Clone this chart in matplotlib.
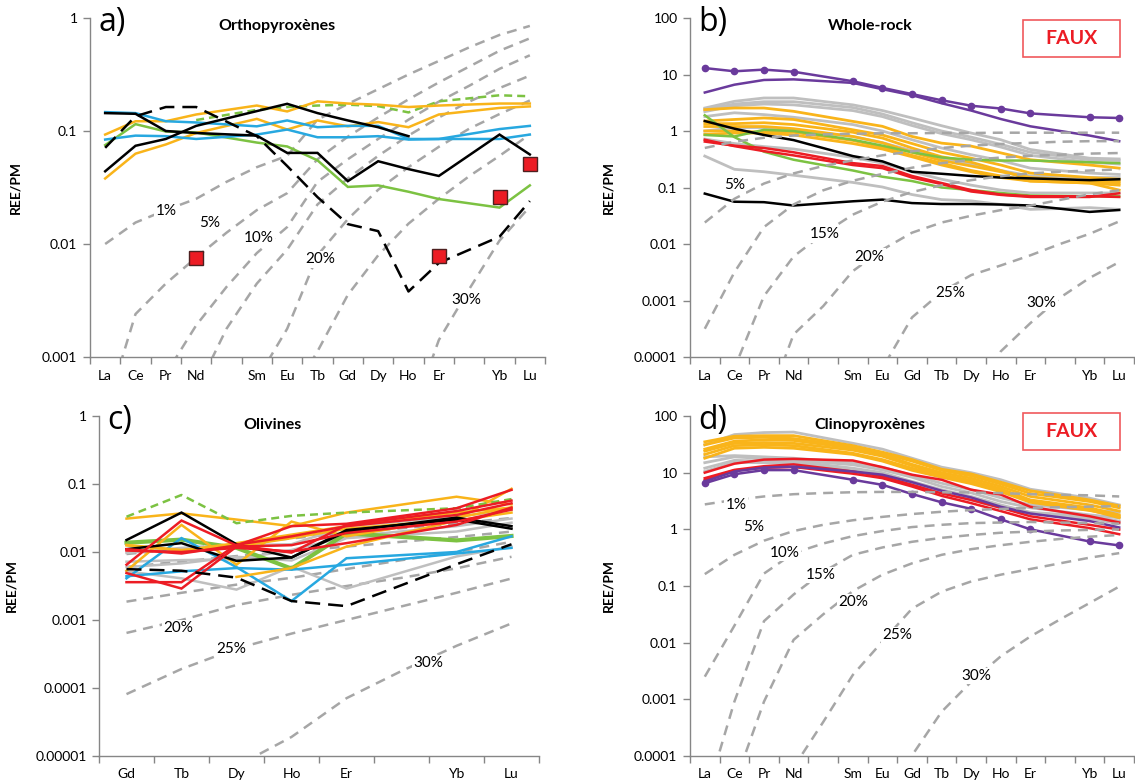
import numpy as np
import matplotlib
matplotlib.use('Agg')
import matplotlib.pyplot as plt
from matplotlib.ticker import FixedLocator, NullLocator, FuncFormatter
from matplotlib.patches import Rectangle

plt.rcParams['font.family'] = ['Lato', 'DejaVu Sans']

# ---------------- categories ----------------
ree_a = ['La', 'Ce', 'Pr', 'Nd', '', 'Sm', 'Eu', 'Tb', 'Gd', 'Dy', 'Ho', 'Er', '', 'Yb', 'Lu']
ree_b = ['La', 'Ce', 'Pr', 'Nd', '', 'Sm', 'Eu', 'Gd', 'Tb', 'Dy', 'Ho', 'Er', '', 'Yb', 'Lu']
ree_c = ['Gd', 'Tb', 'Dy', 'Ho', 'Er', '', 'Yb', 'Lu']

# ---------------- a) orthopyroxenes ----------------
a_black1 = [0.144, 0.142, 0.100, 0.096, None, 0.091, 0.064, 0.064, 0.036, 0.054, 0.046, 0.040, None, 0.093, 0.062]
a_black2 = [0.044, 0.074, 0.085, 0.111, None, 0.150, 0.174, 0.144, 0.124, 0.108, 0.090, None, None, None, None]
a_black_dash = [0.071, 0.135, 0.163, 0.163, None, 0.090, 0.049, 0.026, 0.015, 0.013, 0.0038, 0.0068, None, 0.0116, 0.024]
a_green = [0.075, 0.115, 0.099, 0.097, None, 0.079, 0.073, 0.055, 0.032, 0.033, 0.029, 0.025, None, 0.021, 0.033]
a_green_dash = [None, None, None, 0.125, None, 0.154, 0.163, 0.168, 0.171, 0.166, 0.146, 0.183, None, 0.207, 0.203]
a_orange1 = [0.093, 0.122, 0.122, 0.140, None, 0.168, 0.149, 0.183, 0.175, 0.171, 0.163, 0.168, None, 0.175, 0.175]
a_orange2 = [0.038, 0.063, 0.076, 0.096, None, 0.128, 0.103, 0.124, 0.110, 0.120, 0.108, 0.140, None, 0.160, 0.165]
a_blue1 = [0.147, 0.144, 0.122, 0.119, None, 0.110, 0.124, 0.108, 0.111, 0.111, 0.085, 0.085, None, 0.104, 0.111]
a_blue2 = [0.084, 0.091, 0.090, 0.085, None, 0.093, 0.103, 0.088, 0.088, 0.090, 0.084, 0.085, None, 0.085, 0.093]
a_squares = [None, None, None, 0.0075, None, None, None, None, None, None, None, 0.0079, None, 0.026, 0.051]

# melting models, log10(REE/PM)
a_m1 = [-2.00, -1.81, -1.70, -1.60, -1.45, -1.32, -1.22, -0.90, -0.76, -0.63, -0.50, -0.38, -0.26, -0.15, -0.07]
a_m5 = [-3.50, -2.62, -2.35, -2.12, -1.90, -1.70, -1.55, -1.25, -1.05, -0.88, -0.72, -0.57, -0.43, -0.29, -0.18]
a_m10 = [-4.6, -3.8, -3.15, -2.72, -2.38, -2.08, -1.85, -1.45, -1.25, -1.07, -0.90, -0.74, -0.60, -0.45, -0.33]
a_m15 = [-6.5, -5.2, -4.1, -3.30, -2.75, -2.35, -2.05, -1.65, -1.42, -1.22, -1.04, -0.88, -0.74, -0.62, -0.51]
a_m20 = [None, -7.0, -6.0, -5.0, -4.0, -3.20, -2.75, -2.10, -1.78, -1.52, -1.32, -1.14, -0.98, -0.85, -0.73]
a_m25 = [None, None, None, None, -5.5, -4.5, -3.4, -2.95, -2.45, -2.10, -1.82, -1.60, -1.40, -1.22, -1.03]
a_m30 = [None, None, None, None, None, None, None, None, -5.5, -4.4, -3.6, -2.85, -2.40, -1.97, -1.67]
a_lab = [('1%', 2.0, 0.0195), ('5%', 3.45, 0.0154), ('10%', 5.05, 0.0112), ('20%', 7.1, 0.0073), ('30%', 11.9, 0.0032)]

# ---------------- b) whole-rock ----------------
b_purple_dot = [13.0, 11.4, 12.2, 11.2, None, 7.6, 5.8, 4.5, 3.5, 2.8, 2.5, 2.05, None, 1.75, 1.7]
b_purple = [4.8, 6.6, 8.0, 8.2, None, 7.1, 5.5, 4.3, 3.1, 2.3, 1.63, 1.21, None, 0.83, 0.66]
b_black1 = [1.5, 1.1, 0.85, 0.69, None, 0.36, 0.29, 0.19, 0.175, 0.16, 0.15, 0.145, None, 0.135, 0.14]
b_black2 = [0.078, 0.056, 0.055, 0.048, None, 0.057, 0.061, 0.053, 0.051, 0.051, 0.050, 0.048, None, 0.037, 0.040]
b_red1 = [0.70, 0.54, 0.44, 0.37, None, 0.25, 0.22, 0.15, 0.115, 0.085, 0.074, 0.068, None, 0.068, 0.079]
b_red2 = [0.65, 0.55, 0.50, 0.42, None, 0.27, 0.24, 0.16, 0.12, 0.09, 0.075, 0.07, None, 0.07, 0.068]
b_green1 = [1.9, 0.78, 0.43, 0.31, None, 0.20, 0.155, 0.13, 0.10, 0.09, 0.08, 0.072, None, 0.07, 0.07]
b_green2 = [0.85, 0.80, 1.05, 1.0, None, 0.70, 0.55, 0.42, 0.34, 0.31, 0.30, 0.30, None, 0.28, 0.27]
b_gray = [
    [2.55, 3.35, 3.84, 3.84, None, 2.9, 2.3, 1.7, 1.24, 0.92, 0.70, 0.47, None, 0.33, 0.32],
    [2.4, 3.0, 3.3, 3.3, None, 2.6, 2.0, 1.4, 1.0, 0.78, 0.58, 0.42, None, 0.31, 0.30],
    [2.2, 2.8, 3.0, 2.9, None, 2.3, 1.8, 1.25, 0.9, 0.70, 0.52, 0.37, None, 0.28, 0.26],
    [1.8, 2.1, 1.95, 1.75, None, 1.3, 1.0, 0.70, 0.50, 0.38, 0.30, 0.22, None, 0.18, 0.17],
    [1.0, 1.15, 1.15, 1.05, None, 0.80, 0.62, 0.45, 0.33, 0.26, 0.20, 0.16, None, 0.15, 0.15],
    [0.72, 0.60, 0.53, 0.48, None, 0.34, 0.27, 0.19, 0.14, 0.11, 0.09, 0.08, None, 0.08, 0.08],
    [0.36, 0.21, 0.19, 0.165, None, 0.123, 0.102, 0.075, 0.061, 0.058, 0.050, 0.041, None, 0.044, 0.041],
]
b_orange = [
    [2.39, 2.55, 2.55, 2.23, None, 1.48, 1.21, 0.80, 0.61, 0.54, 0.41, 0.31, None, 0.25, 0.22],
    [1.5, 1.6, 1.7, 1.6, None, 1.05, 0.85, 0.60, 0.42, 0.33, 0.25, 0.18, None, 0.15, 0.14],
    [1.35, 1.35, 1.4, 1.3, None, 0.95, 0.75, 0.50, 0.35, 0.28, 0.20, 0.14, None, 0.125, 0.13],
    [1.2, 1.2, 1.2, 1.1, None, 0.80, 0.62, 0.42, 0.30, 0.24, 0.19, 0.15, None, 0.13, 0.12],
    [1.0, 1.0, 0.95, 0.95, None, 0.68, 0.52, 0.37, 0.27, 0.20, 0.16, 0.13, None, 0.12, 0.11],
    [0.87, 0.92, 0.92, 0.85, None, 0.60, 0.48, 0.35, 0.25, 0.19, 0.15, 0.13, None, 0.12, 0.09],
]
b_m1 = [-0.30, -0.19, -0.12, -0.08, -0.06, -0.05, -0.04, -0.04, -0.035, -0.035, -0.03, -0.03, -0.03, -0.03, -0.03]
b_m5 = [-1.62, -1.20, -0.93, -0.75, -0.62, -0.52, -0.43, -0.36, -0.30, -0.26, -0.23, -0.21, -0.19, -0.18, -0.18]
b_m10 = [-3.5, -2.5, -1.7, -1.3, -1.05, -0.88, -0.76, -0.65, -0.57, -0.51, -0.47, -0.44, -0.42, -0.40, -0.39]
b_m15 = [-6.0, -4.2, -2.92, -2.22, -1.82, -1.48, -1.25, -1.08, -0.96, -0.87, -0.80, -0.75, -0.72, -0.70, -0.68]
b_m20 = [None, -7.0, -5.0, -3.6, -3.1, -2.48, -2.10, -1.80, -1.62, -1.50, -1.40, -1.32, -1.22, -1.12, -1.05]
b_m25 = [None, None, None, None, None, -5.5, -4.2, -3.30, -2.85, -2.55, -2.38, -2.20, -2.00, -1.82, -1.60]
b_m30 = [None, None, None, None, None, None, None, None, None, -5.0, -3.9, -3.40, -2.95, -2.60, -2.32]
b_lab = [('5%', 1.0, 0.112), ('15%', 4.05, 0.0148), ('20%', 5.57, 0.006), ('25%', 8.3, 0.00135), ('30%', 11.37, 0.00091)]

# ---------------- c) olivines ----------------
c_green_dash = [0.033, 0.069, 0.0265, 0.034, 0.038, None, 0.044, 0.060]
c_black_dash = [0.0056, 0.0053, 0.0042, 0.0019, 0.0016, None, 0.0066, 0.013]
c_black = [
    [0.015, 0.038, 0.013, 0.0083, 0.020, None, 0.032, 0.024],
    [0.011, 0.0135, 0.0074, 0.0083, 0.021, None, 0.030, 0.022],
]
c_green = [0.0137, 0.0152, 0.0115, 0.0057, 0.0188, None, 0.0148, 0.0172]
c_red = [
    [0.0065, 0.029, 0.0125, 0.024, 0.026, None, 0.044, 0.082],
    [0.011, 0.0095, 0.0125, 0.0098, 0.025, None, 0.040, 0.057],
    [0.0049, 0.0029, 0.012, 0.0126, 0.019, None, 0.028, 0.042],
    [0.0036, 0.0036, 0.0128, 0.017, 0.024, None, 0.035, 0.052],
    [0.0105, 0.010, 0.0115, 0.0102, 0.0135, None, 0.025, 0.045],
]
c_orange = [
    [0.031, 0.037, 0.030, 0.024, 0.038, None, 0.065, 0.050],
    [0.0127, 0.0107, 0.012, 0.016, 0.022, None, 0.030, 0.085],
    [0.0053, 0.025, 0.0065, 0.028, 0.017, None, 0.032, 0.045],
    [0.0125, 0.0105, 0.0135, 0.018, 0.024, None, 0.038, 0.045],
    [None, None, 0.0043, 0.0058, 0.012, None, 0.029, 0.038],
]
c_blue = [
    [0.0041, 0.016, 0.0060, 0.0019, 0.0081, None, 0.010, 0.017],
    [0.0044, 0.0052, 0.0058, 0.0055, 0.0065, None, 0.0095, 0.0115],
]
c_gray = [
    [0.0072, 0.0076, 0.0078, 0.0107, 0.0168, None, 0.024, 0.031],
    [0.0052, 0.0041, 0.0028, 0.0061, 0.0029, None, 0.0086, 0.012],
    [0.0097, 0.0115, 0.0126, 0.013, 0.024, None, 0.033, 0.042],
    [0.0060, 0.0068, 0.0085, 0.0075, 0.016, None, 0.020, 0.027],
]
c_m1 = [-2.03, -1.95, -1.88, -1.80, -1.72, -1.65, -1.58, -1.50]
c_m2 = [-2.22, -2.14, -2.06, -1.99, -1.92, -1.85, -1.78, -1.70]
c_m15 = [-2.73, -2.60, -2.48, -2.38, -2.25, -2.12, -2.00, -1.85]
c_m20 = [-3.19, -3.00, -2.78, -2.63, -2.50, -2.38, -2.24, -2.07]
c_m25 = [-4.09, -3.72, -3.42, -3.20, -3.00, -2.80, -2.60, -2.39]
c_m30 = [None, -6.0, -5.15, -4.72, -4.15, -3.75, -3.38, -3.05]
c_lab = [('20%', 0.94, 0.00075), ('25%', 1.9, 0.00037), ('30%', 5.48, 0.00023)]

# ---------------- d) clinopyroxenes ----------------
d_purple_dot = [6.5, 9.4, 11.1, 11.1, None, 7.5, 6.1, 4.2, 3.0, 2.3, 1.5, 1.0, None, 0.61, 0.52]
d_purple = [7.0, 10.5, 12.3, 12.8, None, 10.5, 9.2, 6.8, 4.8, 3.65, 2.5, 1.9, None, 1.4, 1.08]
d_red = [
    [10, 14.4, 17, 17.5, None, 16.4, 12.5, 9.2, 7.5, 5.0, 4.1, 2.5, None, 1.7, 1.32],
    [8, 11.2, 13, 14, None, 10.5, 8.6, 6.1, 4.3, 3.3, 2.4, 1.7, None, 1.2, 0.99],
    [7.5, 11, 12.2, 12.6, None, 9.6, 8.0, 5.7, 3.9, 2.9, 2.1, 1.5, None, 1.05, 0.82],
]
d_gray = [
    [31, 47, 51, 52, None, 33, 26, 18, 12.5, 10, 7.5, 5.1, None, 3.55, 2.7],
    [19, 20, 19, 18, None, 15, 12.5, 9, 6.5, 5, 3.6, 2.7, None, 2.2, 2.0],
    [15, 19, 17.7, 16.6, None, 13.8, 11.2, 8.3, 5.7, 4.4, 3.1, 2.4, None, 1.8, 1.6],
    [12, 16.5, 16, 15.8, None, 12, 10, 7, 5, 3.8, 2.7, 2.0, None, 1.7, 1.4],
    [10.5, 15.2, 15, 14.8, None, 11, 9.3, 6.5, 4.6, 3.3, 2.4, 1.9, None, 1.55, 1.25],
]
d_orange = [
    [35, 44, 45, 45, None, 30, 23, 17, 11.5, 9.5, 6.8, 4.8, None, 3.3, 2.6],
    [31, 41, 42, 40, None, 29, 22, 16, 11, 8.8, 6.3, 4.3, None, 3.1, 2.4],
    [26, 36, 38, 37, None, 27, 21, 14, 10, 8, 5.7, 3.8, None, 2.7, 2.1],
    [24, 33, 34, 33, None, 25, 19.5, 13.3, 9.2, 7.3, 5.2, 3.3, None, 2.4, 1.8],
    [21, 30, 31, 30, None, 22, 17, 12, 8.8, 6.7, 4.8, 3.1, None, 2.2, 1.6],
    [18, 27, 28, 27, None, 21, 16, 11, 8.3, 6.4, 4.6, 3.0, None, 2.15, 1.7],
]
d_m1 = [0.44, 0.52, 0.58, 0.62, 0.64, 0.655, 0.66, 0.66, 0.655, 0.65, 0.64, 0.62, 0.61, 0.60, 0.58]
d_m5 = [-0.79, -0.45, -0.20, -0.03, 0.08, 0.16, 0.22, 0.27, 0.31, 0.34, 0.36, 0.38, 0.39, 0.40, 0.41]
d_m10 = [-2.6, -1.7, -0.78, -0.42, -0.25, -0.12, -0.03, 0.04, 0.08, 0.11, 0.12, 0.13, 0.12, 0.11, 0.10]
d_m15 = [-4.8, -3.04, -1.62, -1.15, -0.75, -0.45, -0.32, -0.22, -0.15, -0.10, -0.06, -0.04, -0.02, -0.01, 0.0]
d_m20 = [-7.0, -4.5, -3.04, -1.95, -1.50, -1.09, -0.80, -0.60, -0.45, -0.35, -0.28, -0.22, -0.17, -0.13, -0.10]
d_m25 = [None, -7.0, -5.5, -4.2, -3.4, -2.57, -1.98, -1.40, -1.10, -0.92, -0.80, -0.70, -0.60, -0.50, -0.42]
d_m30 = [None, None, None, None, None, None, -6.0, -3.99, -3.22, -2.69, -2.24, -1.89, -1.59, -1.30, -1.01]
d_lab = [('1%', 1.06, 2.7), ('5%', 1.65, 1.12), ('10%', 2.7, 0.38), ('15%', 3.93, 0.158),
         ('20%', 5.02, 0.052), ('25%', 6.51, 0.0135), ('30%', 9.17, 0.0026)]

# ---------------- colours ----------------
BLACK = '#000000'
GREEN = '#7cc242'
ORANGE = '#f9b41a'
BLUE = '#27a8e0'
RED = '#ec1c24'
PURPLE = '#6a3a9c'
LGRAY = '#bfbfbf'
DGRAY = '#a6a6a6'
AXC = '#868686'


def series(ax, y, **kw):
    y = np.array([np.nan if v is None else v for v in y], float)
    x = np.arange(len(y))
    m = ~np.isnan(y)
    kw.setdefault('lw', 1.8)
    kw.setdefault('solid_joinstyle', 'miter')
    ax.plot(x[m], y[m], **kw)


def model(ax, logs, z):
    vals = [None if v is None else 10.0 ** v for v in logs]
    series(ax, vals, color=DGRAY, lw=1.8, ls=(0, (4.0, 2.8)), zorder=z)


def fmt(v, pos):
    d = int(round(-np.log10(v)))
    if d <= 0:
        return '%d' % round(v)
    return ('%.' + str(d) + 'f') % v


def setup(ax, labels, ymin, ymax, title, letter, ylx, tx):
    n = len(labels)
    ax.set_yscale('log')
    ax.set_ylim(ymin, ymax)
    ax.set_xlim(-0.5, n - 0.5)
    ax.xaxis.set_major_locator(FixedLocator(np.arange(n + 1) - 0.5))
    ax.xaxis.set_major_formatter(FuncFormatter(lambda v, p: ''))
    ax.xaxis.set_minor_locator(FixedLocator(np.arange(n)))
    ax.set_xticklabels(labels, minor=True)
    ax.tick_params(axis='x', which='minor', length=0, pad=9, labelsize=10)
    ax.tick_params(axis='x', which='major', length=5, width=1, color=AXC)
    decs = 10.0 ** np.arange(np.round(np.log10(ymin)), np.round(np.log10(ymax)) + 1)
    ax.yaxis.set_major_locator(FixedLocator(decs))
    ax.yaxis.set_minor_locator(NullLocator())
    ax.yaxis.set_major_formatter(FuncFormatter(fmt))
    ax.tick_params(axis='y', length=5, width=1, color=AXC, labelsize=10, pad=4)
    for s in ['top', 'right']:
        ax.spines[s].set_visible(False)
    for s in ['left', 'bottom']:
        ax.spines[s].set_color(AXC)
        ax.spines[s].set_linewidth(1.0)
    ax.set_ylabel('REE/PM', fontsize=10, fontweight='bold')
    ax.yaxis.set_label_coords(ylx, 0.5)
    ax.text(tx, 0.975, title, transform=ax.transAxes, fontsize=11.5, fontweight='bold',
            ha='center', va='center')
    ax.text(0.018, 1.035, letter, transform=ax.transAxes, fontsize=23, ha='left', va='top',
            family=['Open Sans', 'DejaVu Sans'])


def labels(ax, labs):
    for t, x, y in labs:
        ax.text(x, y, t, fontsize=11, ha='center', va='center', zorder=6,
                bbox=dict(boxstyle='square,pad=0.08', fc='white', ec='none'))


def faux(ax, y0, y1):
    ax.add_patch(Rectangle((0.75, y0), 0.218, y1 - y0, transform=ax.transAxes, fill=True,
                           fc='white', ec='#f0595c', lw=1.2, clip_on=False, zorder=7))
    ax.text(0.859, (y0 + y1) / 2, 'FAUX', transform=ax.transAxes, color=RED, fontsize=14,
            fontweight='bold', ha='center', va='center', zorder=8)


W, H = 1135, 783
fig = plt.figure(figsize=(W / 100, H / 100), dpi=100)


def box(x0, x1, y0, y1):
    return [x0 / W, 1 - y1 / H, (x1 - x0) / W, (y1 - y0) / H]


ax_a = fig.add_axes(box(90, 545, 18, 357))
ax_b = fig.add_axes(box(690, 1134, 18, 357))
ax_c = fig.add_axes(box(99, 539, 416, 756))
ax_d = fig.add_axes(box(690, 1134, 416, 756))

# ---- a
for m in [a_m1, a_m5, a_m10, a_m15, a_m20, a_m25, a_m30]:
    model(ax_a, m, 1)
labels(ax_a, a_lab)
series(ax_a, a_green, color=GREEN, zorder=3)
series(ax_a, a_green_dash, color=GREEN, ls=(0, (3.2, 2.0)), zorder=3)
series(ax_a, a_orange1, color=ORANGE, zorder=3)
series(ax_a, a_orange2, color=ORANGE, zorder=3)
series(ax_a, a_blue1, color=BLUE, zorder=3)
series(ax_a, a_blue2, color=BLUE, zorder=3)
series(ax_a, a_black1, color=BLACK, zorder=4)
series(ax_a, a_black2, color=BLACK, zorder=4)
series(ax_a, a_black_dash, color=BLACK, ls=(0, (6, 3.2)), zorder=4)
series(ax_a, a_squares, color=RED, ls='none', marker='s', ms=10, mec='#4d2020', mew=1, zorder=5)
setup(ax_a, ree_a, 0.001, 1, 'Orthopyroxènes', 'a)', -0.15, 0.41)

# ---- b
for y in b_gray:
    series(ax_b, y, color=LGRAY, lw=2.0, zorder=2)
for y in b_orange:
    series(ax_b, y, color=ORANGE, lw=2.0, zorder=3)
series(ax_b, b_green1, color=GREEN, zorder=3)
series(ax_b, b_green2, color=GREEN, zorder=3)
series(ax_b, b_red1, color=RED, zorder=3)
series(ax_b, b_red2, color=RED, zorder=3)
series(ax_b, b_black1, color=BLACK, zorder=3)
series(ax_b, b_black2, color=BLACK, zorder=3)
series(ax_b, b_purple, color=PURPLE, zorder=3)
series(ax_b, b_purple_dot, color=PURPLE, marker='o', ms=4.5, zorder=3)
for m in [b_m1, b_m5, b_m10, b_m15, b_m20, b_m25, b_m30]:
    model(ax_b, m, 4)
labels(ax_b, b_lab)
setup(ax_b, ree_b, 0.0001, 100, 'Whole-rock', 'b)', -0.17, 0.405)
faux(ax_b, 0.885, 0.994)

# ---- c
for m in [c_m1, c_m2, c_m15, c_m20, c_m25, c_m30]:
    model(ax_c, m, 1)
labels(ax_c, c_lab)
for y in c_gray:
    series(ax_c, y, color=LGRAY, zorder=2)
series(ax_c, c_green, color=GREEN, lw=3.0, zorder=3)
for y in c_blue:
    series(ax_c, y, color=BLUE, zorder=3)
for y in c_orange:
    series(ax_c, y, color=ORANGE, zorder=3)
for y in c_black:
    series(ax_c, y, color=BLACK, zorder=3)
for y in c_red:
    series(ax_c, y, color=RED, zorder=4)
series(ax_c, c_green_dash, color=GREEN, ls=(0, (3.2, 2.0)), zorder=3)
series(ax_c, c_black_dash, color=BLACK, ls=(0, (6, 3.2)), zorder=4)
setup(ax_c, ree_c, 0.00001, 1, 'Olivines', 'c)', -0.185, 0.394)

# ---- d
for y in d_gray:
    series(ax_d, y, color=LGRAY, lw=2.0, zorder=2)
for y in d_orange:
    series(ax_d, y, color=ORANGE, lw=2.0, zorder=3)
for y in d_red:
    series(ax_d, y, color=RED, zorder=3)
series(ax_d, d_purple, color=PURPLE, zorder=3)
series(ax_d, d_purple_dot, color=PURPLE, marker='o', ms=4.5, zorder=3)
for m in [d_m1, d_m5, d_m10, d_m15, d_m20, d_m25, d_m30]:
    model(ax_d, m, 4)
labels(ax_d, d_lab)
setup(ax_d, ree_b, 0.0001, 100, 'Clinopyroxènes', 'd)', -0.17, 0.405)
faux(ax_d, 0.9, 1.009)

fig.savefig('out.png', dpi=100)
